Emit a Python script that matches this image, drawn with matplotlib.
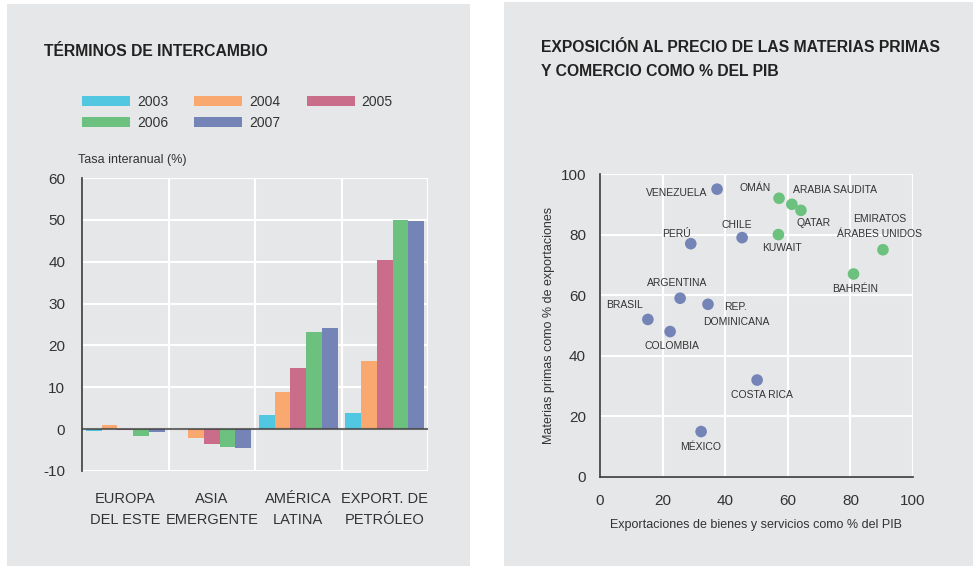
import numpy as np
import matplotlib.pyplot as plt
from matplotlib.patches import Rectangle, Patch

plt.rcParams['font.family'] = ['Liberation Sans', 'DejaVu Sans']
plt.rcParams['axes.unicode_minus'] = False

# --- left chart data ---
regions = ['EUROPA\nDEL ESTE', 'ASIA\nEMERGENTE', 'AMÉRICA\nLATINA', 'EXPORT. DE\nPETRÓLEO']
years = ['2003', '2004', '2005', '2006', '2007']
v2003 = [-0.5, 0.0, 3.3, 3.8]
v2004 = [1.0, -2.0, 8.8, 16.2]
v2005 = [-0.3, -3.5, 14.5, 40.5]
v2006 = [-1.7, -4.2, 23.3, 50.0]
v2007 = [-0.7, -4.5, 24.1, 49.8]
bar_colors = ['#52c7e2', '#f9a86f', '#c96d8b', '#6cc17f', '#7584b7']

# --- right chart data ---
countries = ['VENEZUELA', 'OMÁN', 'ARABIA SAUDITA', 'QATAR', 'CHILE', 'PERÚ', 'KUWAIT',
             'EMIRATOS\nÁRABES UNIDOS', 'BAHRÉIN', 'ARGENTINA', 'REP.\nDOMINICANA',
             'BRASIL', 'COLOMBIA', 'COSTA RICA', 'MÉXICO']
export_pib = [37.4, 57.2, 61.3, 64.2, 45.4, 29.0, 57.0, 90.4, 81.0, 25.6, 34.5, 15.3, 22.4, 50.2, 32.3]
materias = [95, 92, 90, 88, 79, 77, 80, 75, 67, 59, 57, 52, 48, 32, 15]
oil_exporter = [False, True, True, True, False, False, True, True, True, False, False,
                False, False, False, False]
# label offsets in pixels (dx, dy, ha)
offsets = [(-10, -4, 'right'), (-8, 10, 'right'), (1, 14, 'left'), (-4, -13, 'left'),
           (-5, 13, 'center'), (-14, 10, 'center'), (4, -13, 'center'), (-3, 23, 'center'),
           (2, -15, 'center'), (-3, 15, 'center'), (28, -10, 'center'), (-23, 14, 'center'),
           (2, -14, 'center'), (5, -15, 'center'), (0, -15, 'center')]

bg = '#e6e7e9'
dark = '#3a3a3a'
txt = '#333333'

W, H = 973, 566
fig = plt.figure(figsize=(W / 100, H / 100), dpi=100)
fig.patch.set_facecolor('white')
fig.patches.append(Rectangle((7 / W, 0), 463 / W, 562 / H, transform=fig.transFigure,
                             facecolor=bg, edgecolor='none', zorder=-10))
fig.patches.append(Rectangle((504 / W, 0), 469 / W, 564 / H, transform=fig.transFigure,
                             facecolor=bg, edgecolor='none', zorder=-10))

# ---------------- left: bars ----------------
ax = fig.add_axes([82 / W, 1 - 471 / H, 346 / W, 293 / H])
ax.set_facecolor(bg)
series = [v2003, v2004, v2005, v2006, v2007]
x = np.arange(len(regions)) + 0.5
bw = 0.182
for i, vals in enumerate(series):
    ax.bar(x + (i - 2) * bw, vals, width=bw, color=bar_colors[i], zorder=2, linewidth=0)
ax.set_xlim(0, 4)
ax.set_ylim(-10, 60)
for gx in range(5):
    ax.axvline(gx, color='white', lw=1.5, zorder=1)
for gy in range(-10, 61, 10):
    ax.axhline(gy, color='white', lw=1.5, zorder=1)
ax.axhline(0, color='#444444', lw=1.5, alpha=0.8, zorder=3)
for s in ['top', 'right', 'bottom']:
    ax.spines[s].set_visible(False)
ax.spines['left'].set_color(dark)
ax.spines['left'].set_linewidth(1.2)
ax.spines['left'].set_zorder(4)
ax.set_yticks(range(-10, 61, 10))
ax.tick_params(axis='y', length=0, labelsize=11, labelcolor=txt, pad=12)
ax.set_xticks(x)
ax.set_xticklabels(regions, fontsize=10.5, color=txt, linespacing=1.65)
ax.tick_params(axis='x', length=0, pad=15)

fig.text(44 / W, 1 - 52 / H, 'TÉRMINOS DE INTERCAMBIO', fontsize=11.3, fontweight='bold',
         color='#222222', va='center', ha='left')
fig.text(78 / W, 1 - 160 / H, 'Tasa interanual (%)', fontsize=9, color=txt, va='center')

# legend filled column by column -> reorder so rows read 2003 2004 2005 / 2006 2007
order = [0, 3, 1, 4, 2]
handles = [Patch(facecolor=bar_colors[i], edgecolor='none') for i in order]
fig.legend(handles, [years[i] for i in order], loc='upper left',
           bbox_to_anchor=(82 / W, 1 - 95 / H), ncol=3, frameon=False, fontsize=10,
           handlelength=3.45, handleheight=0.65, handletextpad=0.5, columnspacing=1.9,
           labelspacing=0.5, borderpad=0, borderaxespad=0, labelcolor=txt)

# ---------------- right: scatter ----------------
ax2 = fig.add_axes([600 / W, 1 - 477 / H, 313 / W, 303 / H])
ax2.set_facecolor(bg)
ax2.set_xlim(0, 100)
ax2.set_ylim(0, 100)
ax2.set_xticks(range(0, 101, 20))
ax2.set_yticks(range(0, 101, 20))
ax2.grid(True, color='white', lw=1.5, zorder=0)
ax2.set_axisbelow(True)
for s in ['top', 'right']:
    ax2.spines[s].set_visible(False)
for s in ['left', 'bottom']:
    ax2.spines[s].set_color(dark)
    ax2.spines[s].set_linewidth(1.2)
ax2.axhline(100, color='white', lw=1.5, zorder=0)
ax2.axvline(100, color='white', lw=1.5, zorder=0)
ax2.tick_params(length=0, labelsize=11, labelcolor=txt)
ax2.tick_params(axis='y', pad=10)
ax2.tick_params(axis='x', pad=12)
cols = ['#6cc17f' if o else '#7584b7' for o in oil_exporter]
ax2.scatter(export_pib, materias, s=70, c=cols, zorder=3, linewidths=0)
for name, xv, yv, (dx, dy, ha) in zip(countries, export_pib, materias, offsets):
    ax2.annotate(name, (xv, yv), xytext=(dx, dy), textcoords='offset pixels',
                 ha=ha, va='center', fontsize=7.5, color=txt, linespacing=1.6)
ax2.set_xlabel('Exportaciones de bienes y servicios como % del PIB', fontsize=9,
               color=txt, labelpad=8)
ax2.set_ylabel('Materias primas como % de exportaciones', fontsize=9, color=txt,
               labelpad=4)

fig.text(541 / W, 1 - 47 / H, 'EXPOSICIÓN AL PRECIO DE LAS MATERIAS PRIMAS', fontsize=11.3,
         fontweight='bold', color='#222222', va='center')
fig.text(541 / W, 1 - 72 / H, 'Y COMERCIO COMO % DEL PIB', fontsize=11.3,
         fontweight='bold', color='#222222', va='center')

fig.savefig('out.png', dpi=100, facecolor='white')
